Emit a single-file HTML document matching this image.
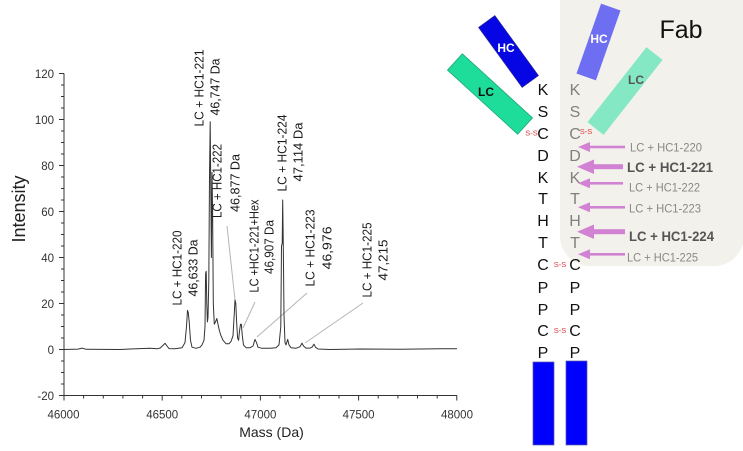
<!DOCTYPE html>
<html><head><meta charset="utf-8"><style>
html,body{margin:0;padding:0;background:#fff;}
svg{display:block;}
text{font-family:"Liberation Sans",Arial,sans-serif;}
</style></head><body>
<svg width="743" height="451" viewBox="0 0 743 451" xmlns="http://www.w3.org/2000/svg">
<rect x="0" y="0" width="743" height="451" fill="#fff"/>

<!-- Fab background -->
<rect x="560" y="-30" width="184" height="296" rx="30" ry="30" fill="#f3f1eb"/>

<!-- Axes -->
<g stroke="#333" stroke-width="1" fill="none">
  <line x1="64" y1="73.5" x2="64" y2="395.5"/>
  <line x1="64" y1="395.5" x2="457" y2="395.5"/>
  <!-- y major ticks -->
  <path d="M59 73.5H64M59 119.5H64M59 165.5H64M59 211.5H64M59 257.5H64M59 303.5H64M59 349.5H64M59 395.5H64"/>
  <!-- y minor ticks -->
  <path d="M61 85H64M61 96.5H64M61 108H64M61 131H64M61 142.5H64M61 154H64M61 177H64M61 188.5H64M61 200H64M61 223H64M61 234.5H64M61 246H64M61 269H64M61 280.5H64M61 292H64M61 315H64M61 326.5H64M61 338H64M61 361H64M61 372.5H64M61 384H64"/>
  <!-- x major ticks -->
  <path d="M64 395.5V400.5M162.2 395.5V400.5M260.4 395.5V400.5M358.6 395.5V400.5M456.8 395.5V400.5"/>
  <!-- x minor ticks -->
  <path d="M83.6 395.5V398.5M103.3 395.5V398.5M122.9 395.5V398.5M142.6 395.5V398.5M181.8 395.5V398.5M201.5 395.5V398.5M221.1 395.5V398.5M240.8 395.5V398.5M280 395.5V398.5M299.7 395.5V398.5M319.3 395.5V398.5M339 395.5V398.5M378.2 395.5V398.5M397.9 395.5V398.5M417.5 395.5V398.5M437.2 395.5V398.5"/>
</g>

<!-- y tick labels -->
<g font-size="11.5" fill="#333" text-anchor="end">
  <text x="54" y="77.8">120</text>
  <text x="54" y="123.8">100</text>
  <text x="54" y="169.8">80</text>
  <text x="54" y="215.8">60</text>
  <text x="54" y="261.8">40</text>
  <text x="54" y="307.8">20</text>
  <text x="54" y="353.8">0</text>
  <text x="54" y="399.8">-20</text>
</g>
<!-- x tick labels -->
<g font-size="11.5" fill="#333" text-anchor="middle">
  <text x="63.5" y="418.5">46000</text>
  <text x="162.2" y="418.5">46500</text>
  <text x="260.4" y="418.5">47000</text>
  <text x="358.6" y="418.5">47500</text>
  <text x="457" y="418.5">48000</text>
</g>
<text x="271.5" y="437" font-size="14" fill="#222" text-anchor="middle">Mass (Da)</text>
<text transform="translate(25,209) rotate(-90)" font-size="18" fill="#222" text-anchor="middle">Intensity</text>

<!-- leader lines -->
<g stroke="#b5b5b5" stroke-width="1" fill="none">
  <line x1="227" y1="226" x2="235" y2="300"/>
  <line x1="255" y1="302" x2="243" y2="328"/>
  <line x1="307" y1="293" x2="257" y2="337"/>
  <line x1="363" y1="303" x2="305" y2="343"/>
</g>

<!-- spectrum -->
<polyline fill="none" stroke="#333" stroke-width="1" stroke-linejoin="round" points="
64,349.5 78,349.1 82,348.1 86,349.3 120,349.5 140,348.6 150,348.3 157,348.8 160,348.1 163,345.4 165,343.3 167,346 169,348.6 175,348.8 182,347.7 185,342.6 186.5,326.5 187.5,310.4 188.3,312.7 189.2,321.9 190.5,340.3 192,347.2 196,348.3 200,347.2 202,344.9 204,340.3 205,326.5 205.6,273.6 206.2,271.3 206.8,303.5 207.4,321.9 208,317.3 208.8,280.5 209.5,177 210.2,121.8 210.8,188.5 211.4,257.5 212,172.4 212.6,211.5 213.3,303.5 214.3,324.2 215.5,321.9 216.8,318.5 218,324.2 219.5,331.1 221,335.7 223,340.3 226,343.7 229,343.7 231,341.5 233,335.7 234.2,315 235,300 235.8,303.5 236.6,321.9 237.6,338 238.6,340.3 239.5,331.1 240.5,324.2 241.3,324.2 242.3,335.7 243.5,344.9 246,347.7 250,347.7 253,346 255,339.4 256.5,342.6 258,347.2 262,348.3 270,348.3 276,347.7 279,344.9 280.8,326.5 281.5,246 282.2,243.7 282.7,200 283.3,246 284,315 285,342.6 286,344.9 287.7,339.4 289,344.9 291,347.7 296,348.3 300,346.7 302,343.1 303.5,346 306,348.1 310,348.1 312,347.2 314,344.2 315.5,347.2 318,349 330,349.5 360,349 400,349.3 420,349 440,348.8 457,348.8"/>

<!-- rotated peak labels -->
<g font-size="13" fill="#1a1a1a" text-anchor="middle" lengthAdjust="spacingAndGlyphs">
  <text transform="translate(181.5,268) rotate(-90)" textLength="75" lengthAdjust="spacingAndGlyphs">LC + HC1-220</text>
  <text transform="translate(197.5,268) rotate(-90)" textLength="57" lengthAdjust="spacingAndGlyphs">46,633 Da</text>
  <text transform="translate(203.5,88) rotate(-90)" textLength="77" lengthAdjust="spacingAndGlyphs">LC + HC1-221</text>
  <text transform="translate(219.5,87) rotate(-90)" textLength="57" lengthAdjust="spacingAndGlyphs">46,747 Da</text>
  <text transform="translate(221.5,181) rotate(-90)" textLength="74" lengthAdjust="spacingAndGlyphs">LC + HC1-222</text>
  <text transform="translate(239.5,183) rotate(-90)" textLength="58" lengthAdjust="spacingAndGlyphs">46,877 Da</text>
  <text transform="translate(258.5,246) rotate(-90)" textLength="93" lengthAdjust="spacingAndGlyphs">LC +HC1-221+Hex</text>
  <text transform="translate(273.5,247) rotate(-90)" textLength="54" lengthAdjust="spacingAndGlyphs">46,907 Da</text>
  <text transform="translate(286.5,153) rotate(-90)" textLength="77" lengthAdjust="spacingAndGlyphs">LC + HC1-224</text>
  <text transform="translate(302.5,152) rotate(-90)" textLength="59" lengthAdjust="spacingAndGlyphs">47,114 Da</text>
  <text transform="translate(314.5,248) rotate(-90)" textLength="77" lengthAdjust="spacingAndGlyphs">LC + HC1-223</text>
  <text transform="translate(331.5,248) rotate(-90)" textLength="43" lengthAdjust="spacingAndGlyphs">46,976</text>
  <text transform="translate(371.5,260) rotate(-90)" textLength="75" lengthAdjust="spacingAndGlyphs">LC + HC1-225</text>
  <text transform="translate(387.5,260) rotate(-90)" textLength="41" lengthAdjust="spacingAndGlyphs">47,215</text>
</g>

<!-- Left HC / LC boxes -->
<g transform="translate(508.5,51.5) rotate(-36)">
  <rect x="-10" y="-37" width="20" height="74" fill="#0606e4" stroke="#20209a" stroke-width="0.8"/>
</g>
<text x="506" y="52" font-size="12" font-weight="bold" fill="#fff" text-anchor="middle">HC</text>
<g transform="translate(490,94) rotate(-47.6)">
  <rect x="-11" y="-47.5" width="22" height="95" fill="#1edc9a" stroke="#18a676" stroke-width="0.8"/>
</g>
<text x="486" y="96" font-size="12" font-weight="bold" fill="#111" text-anchor="middle">LC</text>

<!-- Fab HC / LC boxes -->
<g transform="translate(598.5,42) rotate(19.4)">
  <rect x="-10.3" y="-37" width="20.6" height="74" fill="#6e6ef2"/>
</g>
<text x="599" y="43" font-size="12" font-weight="bold" fill="#fff" text-anchor="middle">HC</text>
<g transform="translate(625,91) rotate(38.2)">
  <rect x="-10.25" y="-47.7" width="20.5" height="95.4" fill="#85e8c4"/>
</g>
<text x="636" y="84" font-size="12" font-weight="bold" fill="#555" text-anchor="middle">LC</text>

<text x="681" y="38" font-size="25" fill="#111" text-anchor="middle">Fab</text>

<!-- sequence left column -->
<g font-size="16" fill="#111" text-anchor="middle">
  <text x="543" y="95">K</text>
  <text x="543" y="117">S</text>
  <text x="543" y="139">C</text>
  <text x="543" y="161">D</text>
  <text x="543" y="183">K</text>
  <text x="543" y="204">T</text>
  <text x="543" y="226">H</text>
  <text x="543" y="248">T</text>
  <text x="543" y="270">C</text>
  <text x="543" y="293">P</text>
  <text x="543" y="315">P</text>
  <text x="543" y="336">C</text>
  <text x="543" y="358">P</text>
</g>
<!-- sequence right column -->
<g font-size="16" fill="#808080" text-anchor="middle">
  <text x="575" y="95">K</text>
  <text x="575" y="117">S</text>
  <text x="575" y="139">C</text>
  <text x="575" y="161">D</text>
  <text x="575" y="183">K</text>
  <text x="575" y="204">T</text>
  <text x="575" y="226">H</text>
  <text x="575" y="248">T</text>
</g>
<g font-size="16" fill="#111" text-anchor="middle">
  <text x="575" y="270">C</text>
  <text x="575" y="293">P</text>
  <text x="575" y="315">P</text>
  <text x="575" y="336">C</text>
  <text x="575" y="358">P</text>
</g>

<!-- S-S labels -->
<g font-size="7.5" fill="#e03a3a" text-anchor="middle">
  <text x="531.5" y="135.5">S-S</text>
  <text x="586" y="134">S-S</text>
  <text x="560" y="267">S-S</text>
  <text x="560" y="333">S-S</text>
</g>

<!-- arrows -->
<g fill="#d282d2" stroke="none">
  <rect x="584" y="145.7" width="41" height="2.6"/>
  <polygon points="578,147 590,142 590,152"/>
  <rect x="586" y="164.2" width="37" height="5"/>
  <polygon points="577,166.7 594,159.5 594,174"/>
  <rect x="584" y="182" width="39" height="2.6"/>
  <polygon points="578,183.3 590,178.3 590,188.3"/>
  <rect x="584" y="206" width="41" height="2.6"/>
  <polygon points="578,207.3 590,202.3 590,212.3"/>
  <rect x="586" y="229.2" width="39" height="5"/>
  <polygon points="577,231.7 594,224.5 594,239"/>
  <rect x="584" y="253" width="41" height="2.6"/>
  <polygon points="578,254.3 590,249.3 590,259.3"/>
</g>

<!-- arrow labels -->
<text x="630" y="151.5" font-size="12" fill="#888" textLength="72" lengthAdjust="spacingAndGlyphs">LC + HC1-220</text>
<text x="627" y="172" font-size="14" font-weight="bold" fill="#555" textLength="86" lengthAdjust="spacingAndGlyphs">LC + HC1-221</text>
<text x="629" y="191.5" font-size="12" fill="#888" textLength="71" lengthAdjust="spacingAndGlyphs">LC + HC1-222</text>
<text x="629" y="212.5" font-size="12" fill="#888" textLength="72" lengthAdjust="spacingAndGlyphs">LC + HC1-223</text>
<text x="629" y="241" font-size="14" font-weight="bold" fill="#555" textLength="85" lengthAdjust="spacingAndGlyphs">LC + HC1-224</text>
<text x="627" y="261.5" font-size="12" fill="#888" textLength="71" lengthAdjust="spacingAndGlyphs">LC + HC1-225</text>

<!-- bottom Fc bars -->
<rect x="533" y="362" width="21" height="83" fill="#0000ff" stroke="#5a5aa8" stroke-width="0.7"/>
<rect x="566" y="361" width="21" height="84" fill="#0000ff" stroke="#5a5aa8" stroke-width="0.7"/>
</svg>
</body></html>
